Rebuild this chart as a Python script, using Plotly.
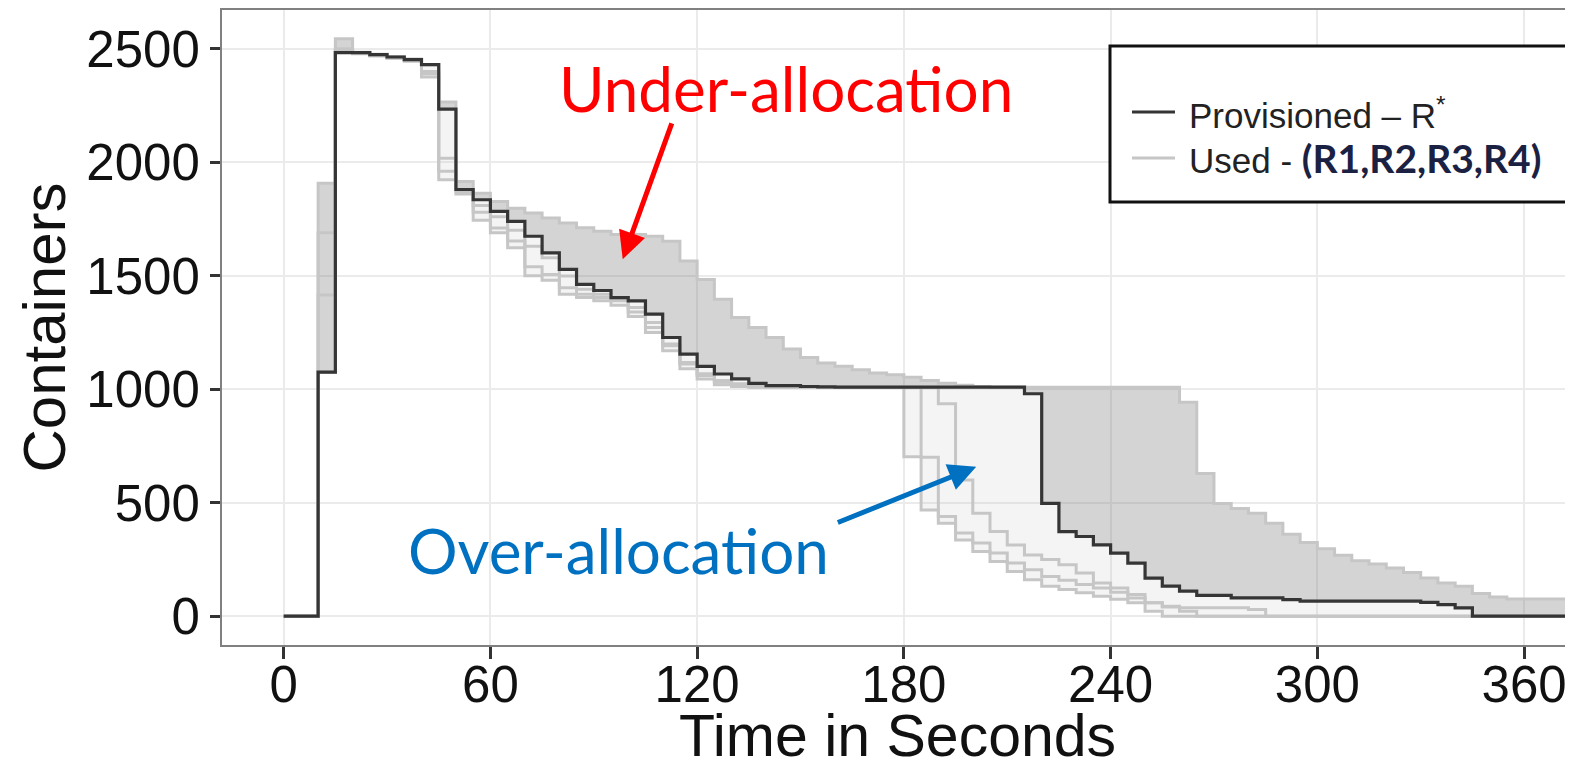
import numpy as np
import plotly.graph_objects as go

# ---------------- data ----------------
time_s = [0, 5, 10, 15, 20, 25, 30, 35, 40, 45, 50, 55, 60, 65, 70, 75, 80, 85, 90, 95,
          100, 105, 110, 115, 120, 125, 130, 135, 140, 145, 150, 155, 160, 165, 170, 175,
          180, 185, 190, 195, 200, 205, 210, 215, 220, 225, 230, 235, 240, 245, 250, 255,
          260, 265, 270, 275, 280, 285, 290, 295, 300, 305, 310, 315, 320, 325, 330, 335,
          340, 345, 350, 355, 360, 365, 370, 375, 380]

provisioned = [0, 0, 1075, 2483, 2483, 2474, 2464, 2452, 2430, 2234, 1880, 1835, 1784, 1740,
               1674, 1601, 1528, 1462, 1435, 1404, 1389, 1331, 1228, 1155, 1101, 1067, 1046,
               1026, 1016, 1016, 1012, 1010, 1009, 1009, 1009, 1009, 1009, 1009, 1009, 1009,
               1009, 1009, 1009, 980, 497, 373, 351, 314, 278, 234, 168, 132, 110, 92, 92, 81,
               81, 81, 73, 66, 66, 66, 66, 66, 66, 66, 61, 51, 37, 0, 0, 0, 0, 0, 0, 0, 0]

used_r1 = [0, 0, 1908, 2544, 2485, 2476, 2466, 2455, 2430, 2266, 1915, 1864, 1827, 1798, 1776,
           1754, 1732, 1711, 1696, 1682, 1682, 1674, 1652, 1565, 1484, 1397, 1316, 1272, 1228,
           1177, 1140, 1116, 1101, 1086, 1072, 1064, 1053, 1038, 1026, 1018, 1012, 1009, 1009,
           1009, 1009, 1009, 1009, 1009, 1009, 1009, 1009, 1009, 943, 629, 497, 475, 453, 410,
           361, 325, 297, 268, 244, 230, 212, 193, 168, 146, 132, 100, 85, 76, 76, 76, 76, 76, 76]

used_r2 = [0, 0, 1689, 2500, 2483, 2472, 2462, 2450, 2400, 2018, 1879, 1810, 1760, 1700, 1630,
           1579, 1499, 1440, 1418, 1400, 1360, 1294, 1199, 1118, 1068, 1038, 1024, 1016, 1012,
           1009, 1009, 1009, 1009, 1009, 1009, 1009, 1009, 1009, 936, 600, 453, 373, 314, 270,
           250, 227, 190, 146, 124, 95, 59, 44, 37, 37, 37, 37, 29, 0, 0, 0, 0, 0, 0, 0, 0, 0,
           0, 0, 0, 0, 0, 0, 0, 0, 0, 0, 0]

used_r3 = [0, 0, 1415, 2490, 2480, 2470, 2460, 2448, 2390, 1960, 1870, 1780, 1710, 1653, 1540,
           1506, 1447, 1418, 1404, 1390, 1340, 1272, 1192, 1111, 1060, 1031, 1016, 1010, 1009,
           1009, 1009, 1009, 1009, 1009, 1009, 1009, 702, 700, 439, 366, 322, 278, 234, 205,
           175, 158, 140, 124, 105, 80, 59, 40, 22, 0, 0, 0, 0, 0, 0, 0, 0, 0, 0, 0, 0, 0, 0,
           0, 0, 0, 0, 0, 0, 0, 0, 0, 0]

used_r4 = [0, 0, 1075, 2485, 2478, 2468, 2458, 2445, 2376, 1923, 1860, 1745, 1690, 1623, 1500,
           1480, 1418, 1404, 1390, 1370, 1320, 1250, 1170, 1090, 1045, 1020, 1012, 1009, 1009,
           1009, 1009, 1009, 1009, 1009, 1009, 1009, 1009, 468, 410, 336, 285, 241, 197, 161,
           132, 117, 103, 88, 75, 59, 22, 0, 0, 0, 0, 0, 0, 0, 0, 0, 0, 0, 0, 0, 0, 0, 0, 0,
           0, 0, 0, 0, 0, 0, 0, 0, 0]

used_runs = {"R1": used_r1, "R2": used_r2, "R3": used_r3, "R4": used_r4}

x_ticks = [0, 60, 120, 180, 240, 300, 360]
y_ticks = [0, 500, 1000, 1500, 2000, 2500]

for name, s in used_runs.items():
    assert len(s) == len(time_s), (name, len(s))
assert len(provisioned) == len(time_s)

# ---------------- derived envelopes ----------------
P = np.array(provisioned, dtype=float)
U = np.array(list(used_runs.values()), dtype=float)
upper = np.maximum(P, U.max(axis=0))   # under-allocation band top
lower = np.minimum(P, U.min(axis=0))   # over-allocation band bottom

# ---------------- geometry ----------------
# the page body has an 8px margin, so the figure is made 8px smaller and
# all positions below are given in screen pixels.
OFF = 8
W, H = 1573 - OFF, 769 - OFF
PLOT_L, PLOT_R, PLOT_T, PLOT_B = 222, 1573, 10, 645     # screen pixels
ML = PLOT_L - OFF
MT = PLOT_T - OFF
MR = (1573 - PLOT_R)
MB = 769 - PLOT_B
PW = PLOT_R - PLOT_L
PH = PLOT_B - PLOT_T

def px_x(px):
    return (px - PLOT_L) / PW

def px_y(py):
    return (PLOT_B - py) / PH

fig = go.Figure()
hv = dict(shape="hv")

# under-allocation band (used above provisioned)
fig.add_trace(go.Scatter(x=time_s, y=P, mode="lines", line=dict(width=0, **hv),
                         hoverinfo="skip", showlegend=False))
fig.add_trace(go.Scatter(x=time_s, y=upper, mode="lines", line=dict(width=0, **hv),
                         fill="tonexty", fillcolor="rgba(120,120,120,0.32)",
                         hoverinfo="skip", showlegend=False, name="Under-allocation"))
# over-allocation band (used below provisioned)
fig.add_trace(go.Scatter(x=time_s, y=lower, mode="lines", line=dict(width=0, **hv),
                         hoverinfo="skip", showlegend=False))
fig.add_trace(go.Scatter(x=time_s, y=P, mode="lines", line=dict(width=0, **hv),
                         fill="tonexty", fillcolor="rgba(190,190,190,0.17)",
                         hoverinfo="skip", showlegend=False, name="Over-allocation"))

for name, s in used_runs.items():
    fig.add_trace(go.Scatter(x=time_s, y=s, mode="lines", name="Used - " + name,
                             line=dict(color="#c6c6c6", width=3, **hv), showlegend=False))

fig.add_trace(go.Scatter(x=time_s, y=provisioned, mode="lines", name="Provisioned - R*",
                         line=dict(color="#353535", width=3.2, **hv), showlegend=False))

axis_common = dict(
    showgrid=True, gridcolor="#ebebeb", gridwidth=1.5, zeroline=False,
    showline=True, linecolor="#808080", linewidth=2,
    ticks="outside", tickwidth=2.5, tickcolor="#333333",
    tickfont=dict(family="Liberation Sans, Arial, sans-serif", size=51, color="#111111"),
)

fig.update_layout(
    width=W, height=H,
    margin=dict(l=ML, r=MR, t=MT, b=MB, autoexpand=False),
    paper_bgcolor="white", plot_bgcolor="white",
    showlegend=False,
    xaxis=dict(range=[-17.9, 374.2], tickvals=x_ticks, mirror=True,
               ticklen=12, ticklabelstandoff=-18,
               title=dict(text="Time in Seconds", standoff=12,
                          font=dict(family="Liberation Sans, Arial, sans-serif", size=59,
                                    color="#111111")),
               **axis_common),
    yaxis=dict(range=[-127, 2671], tickvals=y_ticks, mirror=False,
               ticklen=10,
               title=dict(text="Containers", standoff=1,
                          font=dict(family="Liberation Sans, Arial, sans-serif", size=60,
                                    color="#111111")),
               **axis_common),
)

# ---------------- legend box drawn as in the reference ----------------
fig.add_shape(type="rect", xref="paper", yref="paper",
              x0=px_x(1110), x1=px_x(1570), y0=px_y(202), y1=px_y(46),
              line=dict(color="#111111", width=3), fillcolor="white", layer="above")
fig.add_shape(type="line", xref="paper", yref="paper",
              x0=px_x(1132), x1=px_x(1175), y0=px_y(112), y1=px_y(112),
              line=dict(color="#353535", width=3), layer="above")
fig.add_shape(type="line", xref="paper", yref="paper",
              x0=px_x(1132), x1=px_x(1175), y0=px_y(158), y1=px_y(158),
              line=dict(color="#c6c6c6", width=3), layer="above")

legend_font = dict(family="Liberation Sans, Arial, sans-serif", size=35, color="#222222")
fig.add_annotation(xref="paper", yref="paper", x=px_x(1187), y=px_y(113),
                   xanchor="left", yanchor="middle", showarrow=False,
                   text="Provisioned \u2013 R<sup>*</sup>", font=legend_font)
fig.add_annotation(xref="paper", yref="paper", x=px_x(1187), y=px_y(158),
                   xanchor="left", yanchor="middle", showarrow=False,
                   text="Used - <span style='font-family:Lato;font-weight:bold;"
                        "font-size:39px;fill:#1b2142'>(R1,R2,R3,R4)</span>",
                   font=legend_font)

# ---------------- call-out texts and arrows ----------------
fig.add_annotation(xref="paper", yref="paper", x=px_x(786), y=px_y(88),
                   xanchor="center", yanchor="middle", showarrow=False,
                   text="Under-allocation",
                   font=dict(family="Lato, sans-serif", size=62, color="#ff0000"))
fig.add_annotation(xref="paper", yref="paper", x=px_x(618), y=px_y(550),
                   xanchor="center", yanchor="middle", showarrow=False,
                   text="Over-allocation",
                   font=dict(family="Lato, sans-serif", size=62, color="#0070c0"))

fig.add_annotation(x=98.4, y=1573, ax=112.8, ay=2178, xref="x", yref="y",
                   axref="x", ayref="y", text="", showarrow=True,
                   arrowhead=2, arrowsize=1.1, arrowwidth=5, arrowcolor="#ff0000")
fig.add_annotation(x=201.0, y=658, ax=160.4, ay=410, xref="x", yref="y",
                   axref="x", ayref="y", text="", showarrow=True,
                   arrowhead=2, arrowsize=1.1, arrowwidth=5, arrowcolor="#0070c0")

fig.write_html("out.html")
